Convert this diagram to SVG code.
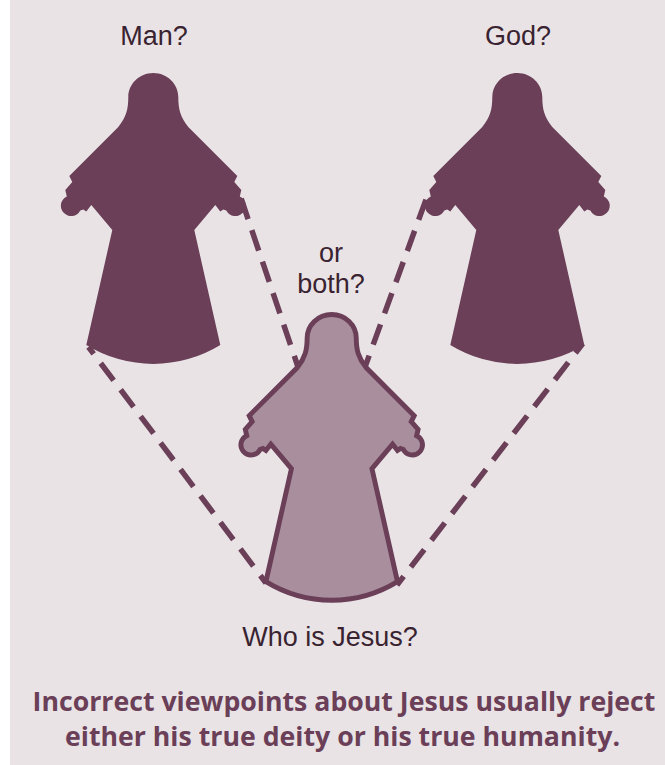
<svg xmlns="http://www.w3.org/2000/svg" width="665" height="765" viewBox="0 0 665 765">
<style>
.s{font-family:"Liberation Sans",Arial,sans-serif;font-size:27px;fill:#3a2331;text-anchor:middle}
.b{font-family:"Open Sans","Noto Sans",sans-serif;font-weight:700;font-size:26.7px;fill:#6a3f57;text-anchor:middle}
.d{fill:#6a3f57}
.l{fill:#a98e9d;stroke:#6a3f57;stroke-width:5;stroke-linejoin:miter}
.c{fill:none;stroke:#6a3f57;stroke-width:5.5;stroke-dasharray:21.5 11.7}
</style>
<defs>
<path id="f" d="M0 0C14 0 25 11 25 24C25 36 27 44 35 54L84 103L81 109L88 117L86.5 123.4A10.3 10.3 0 1 1 73 137.5L70 136.5L67 138.5L62 132L41 157L67 272A128 128 0 0 1 -67 272L-41 157L-62 132L-67 138.5L-70 136.5L-73 137.5A10.3 10.3 0 1 1 -86.5 123.4L-88 117L-81 109L-84 103L-35 54C-27 44 -25 36 -25 24C-25 11 -14 0 0 0Z"/>
</defs>
<rect x="10" y="0" width="655" height="765" fill="#e9e3e6"/>
<g id="connectors">
<line class="c" x1="241.2" y1="198.7" x2="298" y2="367"/>
<line class="c" x1="426" y1="199.6" x2="365" y2="367"/>
<line class="c" x1="88.5" y1="347" x2="266" y2="583" stroke-dashoffset="12.9"/>
<line class="c" x1="582.8" y1="343.5" x2="397" y2="585" stroke-dashoffset="10" style="stroke-dasharray:22 11.75"/>
</g>
<g id="man"><use href="#f" class="d" x="153.3" y="73"/></g>
<g id="god"><use href="#f" class="d" x="517.3" y="73"/></g>
<g id="jesus"><use href="#f" class="l" transform="translate(331.7 314.5) scale(.982)"/></g>
<g id="labels">
<text class="s" x="154" y="45">Man?</text>
<text class="s" x="518" y="45">God?</text>
<text class="s" x="331" y="262">or</text>
<text class="s" x="331" y="293">both?</text>
<text class="s" x="330" y="646">Who is Jesus?</text>
<text class="b" x="344" y="711">Incorrect viewpoints about Jesus usually reject</text>
<text class="b" x="342.5" y="746">either his true deity or his true humanity.</text>
</g>
</svg>
